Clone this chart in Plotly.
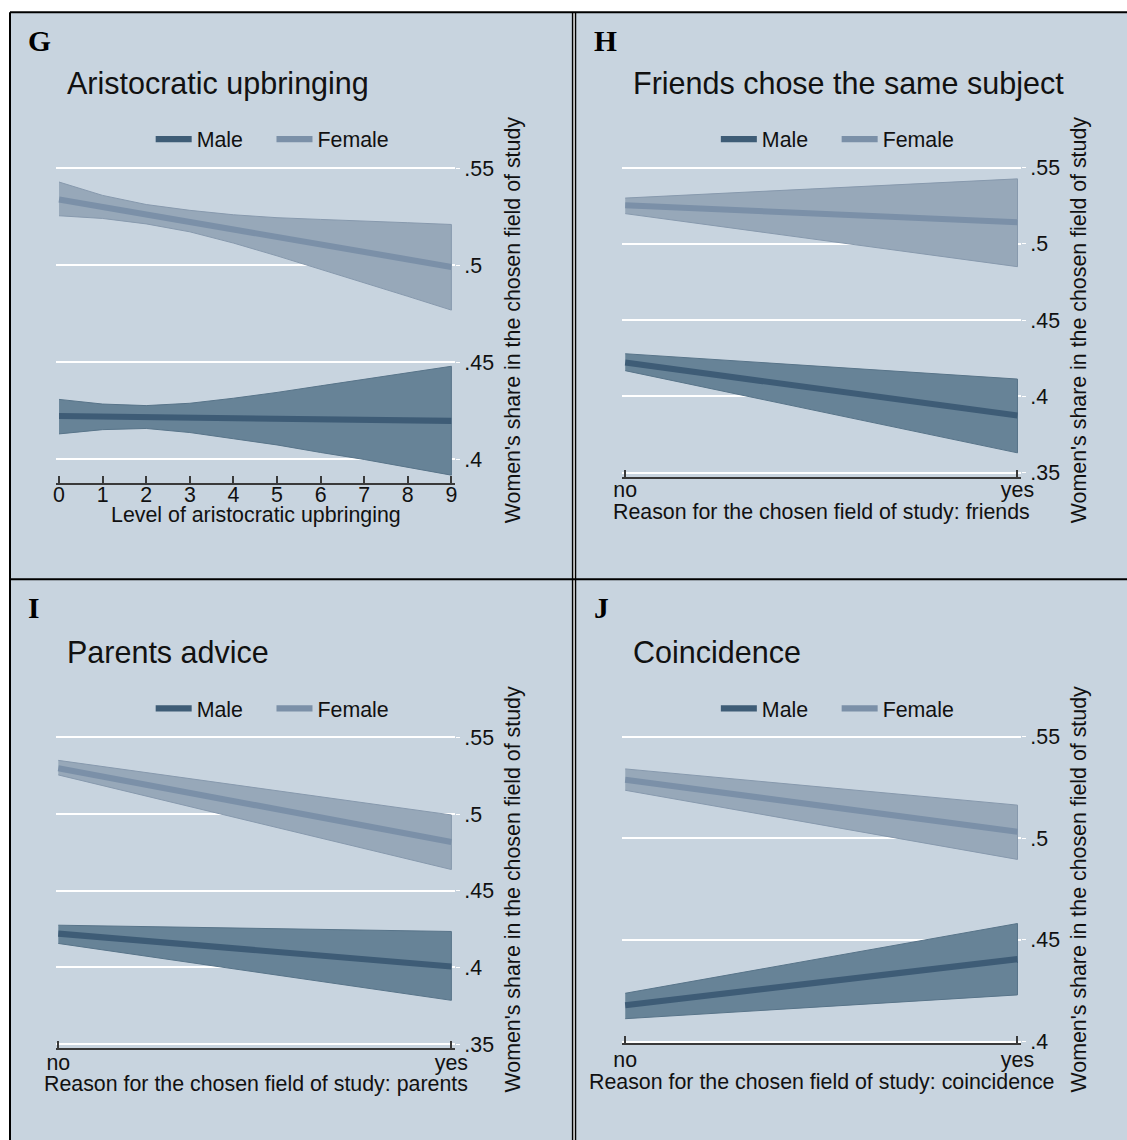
import plotly.graph_objects as go

# Layout is specified in target pixels of a 1127 x 1140 picture.
# The page adds an 8px body margin and the captured page comes out
# about 1.7% smaller, so positions are converted through SCALE/OFF.
PAGE_W, PAGE_H = 1127, 1140
OFF = 8
SCALE = 0.983
FIG_W = int(round(PAGE_W / SCALE - OFF)) + 2
FIG_H = int(round(PAGE_H / SCALE - OFF)) + 2
FONT = "Liberation Sans, Arial, Helvetica, sans-serif"
SERIF = "Liberation Serif, Times New Roman, serif"

# ---------------- data ----------------
# G: predicted share by level of aristocratic upbringing (0..9)
levels_g = [0, 1, 2, 3, 4, 5, 6, 7, 8, 9]
g_female_mean = [0.5340, 0.5302, 0.5264, 0.5226, 0.5188, 0.5150, 0.5112, 0.5072, 0.5032, 0.4992]
g_female_hi = [0.5430, 0.5361, 0.5314, 0.5284, 0.5261, 0.5246, 0.5237, 0.5227, 0.5220, 0.5211]
g_female_lo = [0.5256, 0.5242, 0.5214, 0.5173, 0.5115, 0.5049, 0.4979, 0.4910, 0.4840, 0.4769]
g_male_mean = [0.4222, 0.4220, 0.4217, 0.4214, 0.4211, 0.4208, 0.4205, 0.4202, 0.4200, 0.4197]
g_male_hi = [0.4308, 0.4284, 0.4276, 0.4288, 0.4314, 0.4344, 0.4378, 0.4412, 0.4445, 0.4479]
g_male_lo = [0.4130, 0.4152, 0.4158, 0.4137, 0.4105, 0.4073, 0.4034, 0.3998, 0.3959, 0.3917]

# binary reasons: no / yes
binary_x = [0, 1]
binary_labels = ["no", "yes"]

# H: friends chose the same subject
h_female_mean = [0.5254, 0.5142]
h_female_hi = [0.5301, 0.5427]
h_female_lo = [0.5199, 0.4851]
h_male_mean = [0.4222, 0.3875]
h_male_hi = [0.4280, 0.4114]
h_male_lo = [0.4169, 0.3630]

# I: parents advice
i_female_mean = [0.5298, 0.4818]
i_female_hi = [0.5350, 0.4994]
i_female_lo = [0.5255, 0.4638]
i_male_mean = [0.4220, 0.4006]
i_male_hi = [0.4275, 0.4234]
i_male_lo = [0.4156, 0.3785]

# J: coincidence
j_female_mean = [0.5288, 0.5032]
j_female_hi = [0.5341, 0.5163]
j_female_lo = [0.5236, 0.4896]
j_male_mean = [0.4179, 0.4406]
j_male_hi = [0.4238, 0.4581]
j_male_lo = [0.4113, 0.4230]

y_ticks_main = [0.35, 0.40, 0.45, 0.50, 0.55]
y_ticks_main_text = [".35", ".4", ".45", ".5", ".55"]

# ---------------- styling ----------------
BG = "#c8d4df"
MALE_LINE = "#3e5c76"
MALE_BAND = "#678397"
MALE_EDGE = "#587489"
FEM_LINE = "#7b90a8"
FEM_BAND = "#97a8b9"
FEM_EDGE = "#8799ad"
AXIS = "#3a3a3a"


def sz(v):
    """target pixel length -> figure pixel length"""
    return v / SCALE


def px_x(t):
    """target x pixel -> paper fraction (clamped to the figure)"""
    return min(max((t / SCALE - OFF) / FIG_W, 0.0), 1.0)


def px_y(t):
    """target y pixel (from top) -> paper fraction (clamped to the figure)"""
    return min(max(1 - (t / SCALE - OFF) / FIG_H, 0.0), 1.0)


panels = [
    dict(key="", letter="G", title="Aristocratic upbringing",
         xtitle="Level of aristocratic upbringing",
         x=levels_g, xticks=levels_g, xtext=[str(v) for v in levels_g],
         fm=g_female_mean, fh=g_female_hi, fl=g_female_lo,
         mm=g_male_mean, mh=g_male_hi, ml=g_male_lo,
         xpx=(54.5, 454.4), ypx=(164, 482.7),
         xr=[-0.059, 9.085], yr=[0.3876, 0.5522],
         left=7, top=12, standoff=-8, xtitle_y=514.4),
    dict(key="2", letter="H", title="Friends chose the same subject",
         xtitle="Reason for the chosen field of study: friends",
         x=binary_x, xticks=binary_x, xtext=binary_labels,
         fm=h_female_mean, fh=h_female_hi, fl=h_female_lo,
         mm=h_male_mean, mh=h_male_hi, ml=h_male_lo,
         xpx=(621.5, 1022.2), ypx=(164, 476.7),
         xr=[-0.0091, 1.0091], yr=[0.3471, 0.5523],
         left=575, top=12, standoff=-7, xtitle_y=511.7),
    dict(key="3", letter="I", title="Parents advice",
         xtitle="Reason for the chosen field of study: parents",
         x=binary_x, xticks=binary_x, xtext=binary_labels,
         fm=i_female_mean, fh=i_female_hi, fl=i_female_lo,
         mm=i_male_mean, mh=i_male_hi, ml=i_male_lo,
         xpx=(54.5, 454.4), ypx=(733, 1047),
         xr=[-0.0046, 1.0094], yr=[0.3476, 0.5525],
         left=7, top=579, standoff=-5, xtitle_y=1083.6),
    dict(key="4", letter="J", title="Coincidence",
         xtitle="Reason for the chosen field of study: coincidence",
         x=binary_x, xticks=binary_x, xtext=binary_labels,
         fm=j_female_mean, fh=j_female_hi, fl=j_female_lo,
         mm=j_male_mean, mh=j_male_hi, ml=j_male_lo,
         xpx=(621.5, 1022.2), ypx=(733, 1042),
         xr=[-0.0091, 1.0091], yr=[0.3995, 0.5515],
         left=575, top=579, standoff=-3, xtitle_y=1081),
]

fig = go.Figure()
annotations = []
layout_axes = {}
legends = {}

for p in panels:
    k = p["key"]
    xa, ya = "x" + k, "y" + k
    leg = "legend" + k
    xs = p["x"]

    # confidence bands (closed polygons)
    for hi, lo, fill, edge in ((p["mh"], p["ml"], MALE_BAND, MALE_EDGE),
                               (p["fh"], p["fl"], FEM_BAND, FEM_EDGE)):
        fig.add_trace(go.Scatter(
            x=list(xs) + list(xs)[::-1], y=list(hi) + list(lo)[::-1],
            fill="toself", fillcolor=fill, mode="lines",
            line=dict(color=edge, width=1), hoverinfo="skip",
            showlegend=False, xaxis=xa, yaxis=ya))

    # predicted means
    fig.add_trace(go.Scatter(x=xs, y=p["mm"], mode="lines", name="Male",
                             line=dict(color=MALE_LINE, width=sz(6)),
                             legend=leg, xaxis=xa, yaxis=ya))
    fig.add_trace(go.Scatter(x=xs, y=p["fm"], mode="lines", name="Female",
                             line=dict(color=FEM_LINE, width=sz(6)),
                             legend=leg, xaxis=xa, yaxis=ya))

    x0, x1 = p["xpx"]
    y0, y1 = p["ypx"]
    layout_axes["xaxis" + k] = dict(
        domain=[px_x(x0), px_x(x1)], range=p["xr"], anchor=ya,
        tickmode="array", tickvals=p["xticks"], ticktext=p["xtext"],
        showgrid=False, zeroline=False, showline=True,
        linecolor=AXIS, linewidth=1.5,
        ticks="inside", ticklen=7, tickwidth=1.5, tickcolor=AXIS,
        ticklabelstandoff=p["standoff"],
        tickfont=dict(family=FONT, size=sz(21), color="#111111"),
        fixedrange=True)
    layout_axes["yaxis" + k] = dict(
        domain=[px_y(y1), px_y(y0)], range=p["yr"], anchor=xa, side="right",
        tickmode="array", tickvals=y_ticks_main, ticktext=y_ticks_main_text,
        showgrid=True, gridcolor="white", gridwidth=1.5, zeroline=False,
        showline=False, ticks="outside", ticklen=4, tickcolor="white",
        tickfont=dict(family=FONT, size=sz(21), color="#111111"),
        fixedrange=True)

    legends[leg] = dict(
        x=px_x(x0 + 94.5), y=px_y(y0 - 25), xanchor="left", yanchor="middle",
        orientation="h", bgcolor="rgba(0,0,0,0)", borderwidth=0,
        font=dict(family=FONT, size=sz(21), color="#111111"),
        itemwidth=36, entrywidth=sz(121.7) - 54, entrywidthmode="pixels",
        traceorder="normal")

    # panel letter
    annotations.append(dict(
        x=px_x(p["left"] + 17), y=px_y(p["top"] + 29), xref="paper", yref="paper",
        text="<b>%s</b>" % p["letter"], showarrow=False,
        xanchor="left", yanchor="middle",
        font=dict(family=SERIF, size=sz(29), color="black")))
    # panel title
    annotations.append(dict(
        x=px_x(x0 + 9), y=px_y(y0 - 81), xref="paper", yref="paper",
        text=p["title"], showarrow=False, xanchor="left", yanchor="middle",
        font=dict(family=FONT, size=sz(30), color="#111111")))
    # x-axis title
    annotations.append(dict(
        x=px_x((x0 + x1) / 2), y=px_y(p["xtitle_y"]), xref="paper", yref="paper",
        text=p["xtitle"], showarrow=False, xanchor="center", yanchor="middle",
        font=dict(family=FONT, size=sz(21), color="#111111")))
    # y-axis title (right side)
    annotations.append(dict(
        x=px_x(x1 + 58), y=px_y(y0 + 156), xref="paper", yref="paper",
        text="Women's share in the chosen field of study", textangle=-90,
        showarrow=False, xanchor="center", yanchor="middle",
        font=dict(family=FONT, size=sz(21), color="#111111")))

# panel backgrounds and frame lines (all kept inside the figure area)
shapes = [
    dict(type="rect", xref="paper", yref="paper", layer="below",
         x0=px_x(7), x1=1, y0=0, y1=px_y(12),
         fillcolor=BG, line=dict(width=0)),
    dict(type="rect", xref="paper", yref="paper", layer="below",
         x0=px_x(572.5), x1=px_x(575), y0=0, y1=px_y(12),
         fillcolor="white", line=dict(width=0)),
]
frame_lines = [
    (7, 12, PAGE_W + 30, 12, 2),
    (7, 12, 7, PAGE_H + 30, 2),
    (7, 578.7, PAGE_W + 30, 578.7, 2),
    (572.3, 12, 572.3, PAGE_H + 30, 1.5),
    (575.2, 12, 575.2, PAGE_H + 30, 1.5),
]
for xa0, ya0, xa1, ya1, w in frame_lines:
    shapes.append(dict(type="line", xref="paper", yref="paper", layer="above",
                       x0=px_x(xa0), y0=px_y(ya0), x1=px_x(xa1), y1=px_y(ya1),
                       line=dict(color="black", width=w)))

fig.update_layout(
    width=FIG_W, height=FIG_H, margin=dict(l=0, r=0, t=0, b=0),
    paper_bgcolor="white", plot_bgcolor="rgba(0,0,0,0)",
    font=dict(family=FONT, color="#111111"),
    annotations=annotations, shapes=shapes,
    **layout_axes, **legends)

fig.write_html("out.html")
